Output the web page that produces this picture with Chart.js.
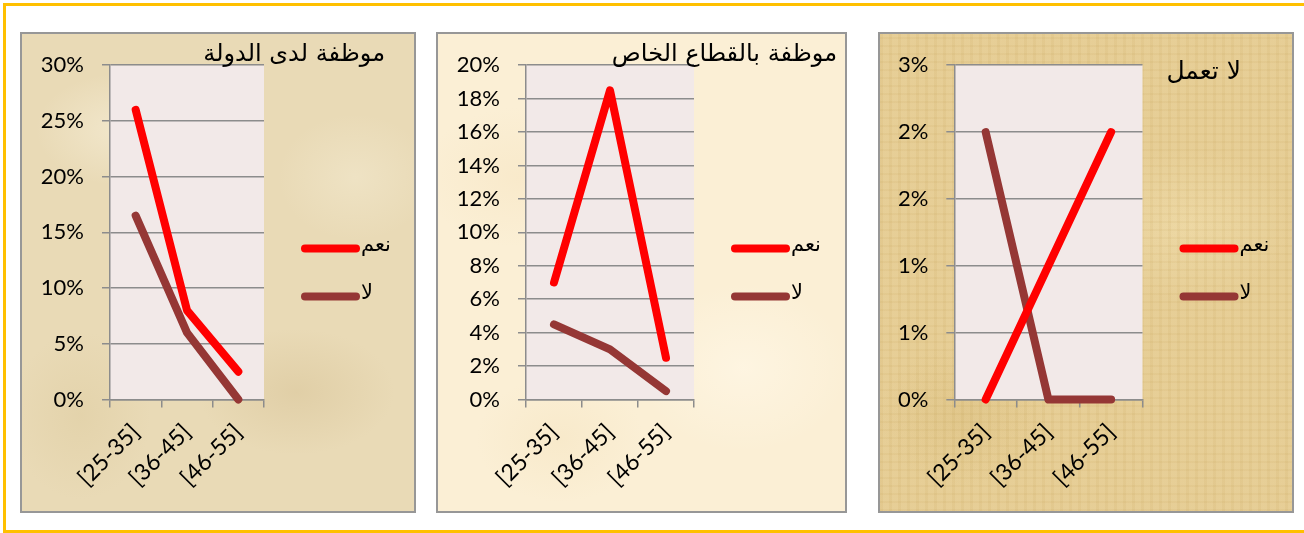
<!DOCTYPE html>
<html>
<head>
<meta charset="utf-8">
<script src="https://cdn.jsdelivr.net/npm/chart.js@4.4.1/dist/chart.umd.min.js"></script>
<style>
  html, body { margin: 0; padding: 0; background: #ffffff; width: 1304px; height: 533px; overflow: hidden; position: relative; }
  #frame { position: absolute; left: 3px; top: 3px; width: 1330px; height: 530px; box-sizing: border-box;
           border-top: 3px solid #ffc000; border-left: 3px solid #ffc000; border-bottom: 3px solid #ffc000; }
  .panel { position: absolute; top: 32px; height: 481px; box-sizing: border-box; border: 2px solid #979797; }
  .panel canvas { position: absolute; left: 0; top: 0; }
  #p1 { left: 20px; width: 396px;
        background:
          radial-gradient(ellipse 120px 80px at 25% 20%, rgba(245,236,212,0.7), rgba(245,236,212,0) 70%),
          radial-gradient(ellipse 140px 90px at 70% 75%, rgba(214,193,148,0.45), rgba(214,193,148,0) 70%),
          radial-gradient(ellipse 100px 120px at 15% 80%, rgba(222,204,160,0.5), rgba(222,204,160,0) 70%),
          radial-gradient(ellipse 110px 90px at 85% 30%, rgba(242,232,205,0.6), rgba(242,232,205,0) 70%),
          #e9dab6; }
  #p2 { left: 436px; width: 411px;
        background:
          radial-gradient(ellipse 140px 100px at 20% 30%, rgba(247,230,196,0.6), rgba(247,230,196,0) 70%),
          radial-gradient(ellipse 150px 120px at 75% 70%, rgba(255,247,230,0.7), rgba(255,247,230,0) 70%),
          radial-gradient(ellipse 120px 90px at 30% 85%, rgba(245,228,192,0.5), rgba(245,228,192,0) 70%),
          #fbefd5; }
  #p3 { left: 878px; width: 416px;
        background:
          repeating-linear-gradient(90deg, rgba(200,170,100,0.10) 0px, rgba(200,170,100,0.10) 3px, rgba(255,240,200,0.06) 3px, rgba(255,240,200,0.06) 9px),
          repeating-linear-gradient(0deg, rgba(200,170,100,0.10) 0px, rgba(200,170,100,0.10) 2px, rgba(255,240,200,0.06) 2px, rgba(255,240,200,0.06) 8px),
          radial-gradient(ellipse 150px 110px at 75% 40%, rgba(240,220,170,0.6), rgba(240,220,170,0) 70%),
          radial-gradient(ellipse 120px 100px at 20% 80%, rgba(214,186,120,0.5), rgba(214,186,120,0) 70%),
          #e4ca90; }
</style>
</head>
<body>
<div id="frame"></div>
<div class="panel" id="p1"><canvas id="c1" width="392" height="477"></canvas></div>
<div class="panel" id="p2"><canvas id="c2" width="407" height="477"></canvas></div>
<div class="panel" id="p3"><canvas id="c3" width="412" height="477"></canvas></div>
<script>
// ---- data ----
const categories = ['[25-35]', '[36-45]', '[46-55]'];
const seriesNames = ['نعم', 'لا'];
const chartTitles = ['موظفة لدى الدولة', 'موظفة بالقطاع الخاص', 'لا تعمل'];

const govYes = [26, 8, 2.5];
const govNo = [16.5, 6, 0];
const privateYes = [7, 18.5, 2.5];
const privateNo = [4.5, 3, 0.5];
const noWorkYes = [0, 1, 2];
const noWorkNo = [2, 0, 0];

const govTicks = ['0%', '5%', '10%', '15%', '20%', '25%', '30%'];
const privateTicks = ['0%', '2%', '4%', '6%', '8%', '10%', '12%', '14%', '16%', '18%', '20%'];
const noWorkTicks = ['0%', '1%', '1%', '2%', '2%', '3%'];

const yesColor = '#ff0000';
const noColor = '#953735';
const gridColor = '#8c8c8c';

Chart.defaults.font.family = "Lato, 'DejaVu Sans', sans-serif";
Chart.defaults.color = '#000';

const decor = {
  id: 'decor',
  beforeDraw(chart, args, o) {
    const { ctx, chartArea: a } = chart;
    ctx.save();
    ctx.fillStyle = o.plotBg;
    ctx.fillRect(a.left, a.top, a.right - a.left, a.bottom - a.top);
    ctx.restore();
  },
  afterDraw(chart, args, o) {
    const { ctx, chartArea: a } = chart;
    ctx.save();
    ctx.direction = 'rtl';
    ctx.fillStyle = '#000';
    ctx.font = o.titleFont;
    ctx.textAlign = 'right';
    ctx.textBaseline = 'alphabetic';
    ctx.fillText(o.title, o.titleX, o.titleY);
    const ds = chart.data.datasets;
    const cy = chart.height / 2;
    ds.forEach((d, i) => {
      const y = cy + (i - (ds.length - 1) / 2) * o.legendGap;
      const x0 = a.right + o.legendOffset;
      const x1 = x0 + o.legendLen;
      ctx.strokeStyle = d.borderColor;
      ctx.lineWidth = d.borderWidth;
      ctx.lineCap = 'round';
      ctx.beginPath();
      ctx.moveTo(x0, y);
      ctx.lineTo(x1, y);
      ctx.stroke();
      ctx.font = o.legendFont;
      ctx.textAlign = 'left';
      ctx.textBaseline = 'middle';
      ctx.fillText(d.label, x1 + 5, y + o.legendTextDy);
    });
    ctx.restore();
  }
};

function makeChart(id, title, yes, no, yMax, yStep, tickLabels, layout) {
  return new Chart(document.getElementById(id), {
    type: 'line',
    data: {
      labels: categories,
      datasets: [
        { label: seriesNames[0], data: yes, borderColor: yesColor, backgroundColor: yesColor,
          borderWidth: 8, borderCapStyle: 'round', borderJoinStyle: 'round', pointRadius: 0, tension: 0, clip: false },
        { label: seriesNames[1], data: no, borderColor: noColor, backgroundColor: noColor,
          borderWidth: 8, borderCapStyle: 'round', borderJoinStyle: 'round', pointRadius: 0, tension: 0, clip: false }
      ]
    },
    options: {
      responsive: false,
      animation: false,
      layout: { padding: { left: 0, top: layout.top, right: layout.right, bottom: 0 } },
      plugins: {
        legend: { display: false },
        title: { display: false },
        tooltip: { enabled: false },
        decor: {
          plotBg: '#f2e9e8',
          title: title,
          titleFont: layout.titleSize + "px 'DejaVu Sans'",
          titleX: layout.titleX,
          titleY: layout.titleY,
          legendFont: "21px 'DejaVu Sans'",
          legendGap: 48,
          legendOffset: 41,
          legendLen: 51,
          legendTextDy: -3
        }
      },
      scales: {
        x: {
          type: 'category',
          offset: true,
          grid: { offset: true, drawOnChartArea: false, drawTicks: true, tickLength: 8, color: gridColor, lineWidth: 1.5 },
          border: { display: true, color: gridColor, width: 1.5 },
          ticks: { minRotation: 45, maxRotation: 45, autoSkip: false, color: '#000', font: { size: 23 }, padding: 11 },
          afterFit: s => { s.height = layout.xH; }
        },
        y: {
          min: 0,
          max: yMax,
          ticks: { stepSize: yStep, color: '#000', font: { size: 22 }, padding: 18,
                   callback: (v, i) => tickLabels[i] },
          grid: { color: gridColor, lineWidth: 1.5, tickLength: 8, drawTicks: true },
          border: { display: true, color: gridColor, width: 1.5 },
          afterFit: s => { s.width = layout.yW; }
        }
      }
    },
    plugins: [decor]
  });
}

makeChart('c1', chartTitles[0], govYes, govNo, 30, 5, govTicks,
  { top: 28.5, right: 150, xH: 111.5, yW: 88, titleX: 363, titleY: 27, titleSize: 24 });
makeChart('c2', chartTitles[1], privateYes, privateNo, 20, 2, privateTicks,
  { top: 28.5, right: 151, xH: 111.5, yW: 88, titleX: 399, titleY: 27, titleSize: 24 });
makeChart('c3', chartTitles[2], noWorkYes, noWorkNo, 2.5, 0.5, noWorkTicks,
  { top: 28.5, right: 149.5, xH: 111.5, yW: 74.3, titleX: 361, titleY: 45, titleSize: 25 });
</script>
</body>
</html>
